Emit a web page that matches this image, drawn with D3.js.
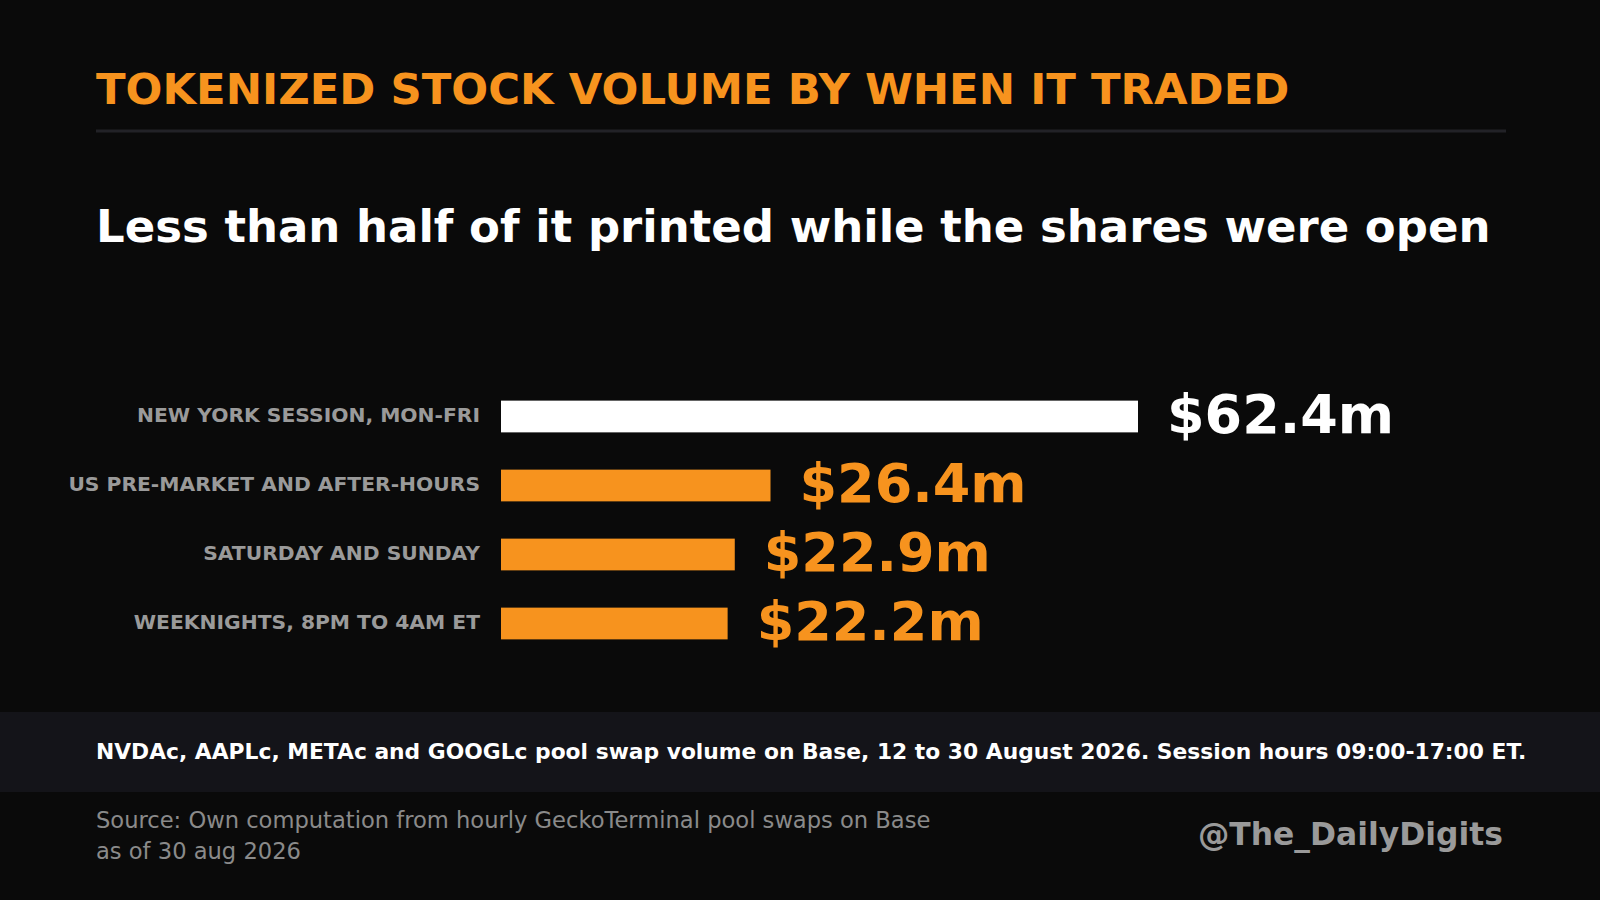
<!DOCTYPE html>
<html>
<head>
<meta charset="utf-8">
<script src="https://cdn.jsdelivr.net/npm/d3@7"></script>
<style>
  html, body { margin: 0; padding: 0; background: #0a0a0a; }
  svg { display: block; font-family: "DejaVu Sans", sans-serif; }
</style>
</head>
<body>
<svg id="chart"></svg>
<script>
// data
const categories = [
  "NEW YORK SESSION, MON-FRI",
  "US PRE-MARKET AND AFTER-HOURS",
  "SATURDAY AND SUNDAY",
  "WEEKNIGHTS, 8PM TO 4AM ET"
];
const volumes = [62.4, 26.4, 22.9, 22.2]; // $ millions
const highlight = [true, false, false, false];

const width = 1600;
const height = 900;
const orange = "#f7931e";

const svg = d3.select("#chart")
  .attr("width", width)
  .attr("height", height);

svg.append("rect")
  .attr("width", width)
  .attr("height", height)
  .attr("fill", "#0a0a0a");

// Title + rule
svg.append("text")
  .attr("x", 96)
  .attr("y", 104)
  .attr("fill", orange)
  .attr("font-size", 43.4)
  .attr("font-weight", "bold")
  .text("TOKENIZED STOCK VOLUME BY WHEN IT TRADED");

svg.append("line")
  .attr("x1", 96)
  .attr("x2", 1506)
  .attr("y1", 131)
  .attr("y2", 131)
  .attr("stroke", "#222227")
  .attr("stroke-width", 3);

// Subtitle
svg.append("text")
  .attr("x", 96)
  .attr("y", 242)
  .attr("fill", "#ffffff")
  .attr("font-size", 45)
  .attr("font-weight", "bold")
  .text("Less than half of it printed while the shares were open");

// Bars
const data = categories.map((c, i) => ({ cat: c, value: volumes[i], hi: highlight[i] }));

const x = d3.scaleLinear()
  .domain([0, d3.max(volumes)])
  .range([501, 1138]);

const y = d3.scaleBand()
  .domain(categories)
  .range([382, 658])
  .paddingInner(0.54)
  .paddingOuter(0.27);

const rows = svg.selectAll(".row")
  .data(data)
  .enter()
  .append("g")
  .attr("class", "row");

rows.append("rect")
  .attr("x", x(0))
  .attr("y", d => y(d.cat))
  .attr("width", d => x(d.value) - x(0))
  .attr("height", y.bandwidth())
  .attr("fill", d => d.hi ? "#ffffff" : orange);

rows.append("text")
  .attr("x", x(0) - 21)
  .attr("y", d => y(d.cat) + y.bandwidth() / 2)
  .attr("dy", "0.26em")
  .attr("text-anchor", "end")
  .attr("fill", "#9a9a9a")
  .attr("font-size", 20.3)
  .attr("font-weight", "bold")
  .text(d => d.cat);

rows.append("text")
  .attr("x", d => x(d.value) + 29)
  .attr("y", d => y(d.cat) + y.bandwidth() / 2)
  .attr("dy", "0.31em")
  .attr("fill", d => d.hi ? "#ffffff" : orange)
  .attr("font-size", 54)
  .attr("font-weight", "bold")
  .text(d => `$${d.value.toFixed(1)}m`);

// Footer band
svg.append("rect")
  .attr("x", 0)
  .attr("y", 712)
  .attr("width", width)
  .attr("height", 80)
  .attr("fill", "#141419");

svg.append("text")
  .attr("x", 96)
  .attr("y", 759)
  .attr("fill", "#ffffff")
  .attr("font-size", 21.8)
  .attr("font-weight", "bold")
  .text("NVDAc, AAPLc, METAc and GOOGLc pool swap volume on Base, 12 to 30 August 2026. Session hours 09:00-17:00 ET.");

// Source
const source = svg.append("text")
  .attr("fill", "#8a8a8a")
  .attr("font-size", 22.6);
source.append("tspan").attr("x", 96).attr("y", 828)
  .text("Source: Own computation from hourly GeckoTerminal pool swaps on Base");
source.append("tspan").attr("x", 96).attr("y", 859)
  .text("as of 30 aug 2026");

svg.append("text")
  .attr("x", 1503)
  .attr("y", 845)
  .attr("text-anchor", "end")
  .attr("fill", "#9a9a9a")
  .attr("font-size", 31.4)
  .attr("font-weight", "bold")
  .text("@The_DailyDigits");
</script>
</body>
</html>
